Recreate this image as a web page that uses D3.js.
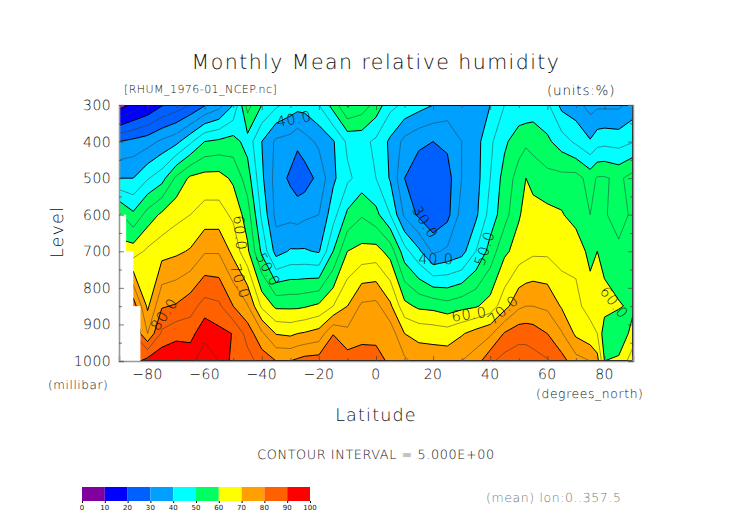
<!DOCTYPE html>
<html><head><meta charset="utf-8">
<script src="https://cdn.jsdelivr.net/npm/d3@7"></script>
<style>
html,body{margin:0;padding:0;background:#fff}
svg{display:block}
text{font-family:"DejaVu Sans",sans-serif;font-weight:200;fill:#111;text-rendering:geometricPrecision}
</style></head><body><svg id="c" width="752" height="532"></svg>
<script>
const latitudes=[-90,-85,-80,-75,-70,-65,-60,-55,-50,-45,-40,-35,-30,-27.5,-25,-20,-15,-10,-5,0,5,10,15,20,25,30,35,40,45,50,52.5,55,60,65,70,75,77.5,80,85,90];
const levels=[300,400,500,600,700,850,925,1000];
const rhum300=[7,11.5,15,19.5,22,25,29.5,33,40,57,50,46,43,42,42,45,52,60.5,58,53,46.5,44,42,40,38,39,38,40,45,46,46,47,46,38.5,37,33,34,34,34,37];
const rhum400=[30,31.5,33,36,38.5,44,50,51,52,48,40,34,33,31,33,36,39.5,46,46.5,44,39,33.5,31,30,31,35,38,44,49,53,54,53.5,51,47.5,44,40.5,43,43.5,43,44.7];
const rhum500=[40,40,44.5,48,56,61,62,62,59,52.5,41,33,29,27,27.5,31.5,39,44,47,45,39.5,30,27,25,28,35,38,45,52,57,60,57.5,56.5,56.5,57,53,55.5,55.5,54,57];
const rhum600=[56,51,57,61,63.5,65,67,67,64,57.5,44,33.5,33.5,33,34,35,43,51,54.5,51.5,45,34,29,26,28.5,37,39,47,53,59.5,61.5,63,61.5,60.5,57.5,55,56.5,55.5,53,56];
const rhum700=[62,62.5,66,68,69,70.5,74.5,74.5,68.5,61,49,38,40.5,40.5,40.5,39.5,50,60,61.5,62,58,47,41,34,36,38,45,52,59,62,63,64,64,62.5,64,58,60,58,56,57];
const rhum850=[70,83,69,79.5,80.5,83,87,86,80,75.5,64,59,59,59,59.5,61,65,70,76,76.5,71,61.5,59,58.5,57,58.5,59.5,62,68,74,75,75,74,69.5,66,63.5,63,62,60.5,59];
const rhum925=[76,85,75,86,88.5,88,94,91.5,89.8,83,76,69.7,69,70,70.5,72,79.8,76.5,79,78.5,78,70,68.5,68,67.5,69.5,72,74,80.5,83,83,82.5,80,75.5,69,66.5,65,57,56,62];
const rhum1000=[80,88,92,94,94,94,97,95,88,87,83,80,80,81,82,82.3,84.5,82.4,81.5,82,79,76,73,73,73,75,77.5,84,87,88,88,87,85.5,82,77,75,72,60,61,68];
const missingLat=[-87.5,-85,-82.5];
const missingLevel=[600,700,850];
const fillValues=[0,10,20,30,40,50,60,70,80,90];
const fillColors=["#8000a0","#0000ff","#0060ff","#00a0ff","#00ffff","#00ff60","#ffff00","#ffa000","#ff6000","#ff0000"];
const lineValues=d3.range(5,100,5);
const latTicks=[-80,-60,-40,-20,0,20,40,60,80];
const latMinor=[-90,-70,-50,-30,-10,10,30,50,70,90];
const levelTicks=[300,400,500,600,700,800,900,1000];
const levelMinor=[350,450,550,650,750,850,950];
const barTicks=[0,10,20,30,40,50,60,70,80,90,100];
const labelText=["40.0","30.0","40.0","50.0","60.0","50.0","70.0","80.0","60.0","70.0","60.0"];
const labelLat=[-28.7,17.2,21,38,-47.6,-37.8,-47.6,-74.2,32.6,44.5,83.4];
const labelLevel=[338,620,722,692,650,750,782,872,872,860,840];
const labelAngle=[-10,58,0,-72,85,62,72,-55,-8,-42,52];

const W=[119,633],H=[105,361];
const x=d3.scaleLinear([-90,90],W), y=d3.scaleLinear([300,1000],H);
const grid=[rhum300,rhum400,rhum500,rhum600,rhum700,rhum850,rhum925,rhum1000].flat();
const latOf=d3.scaleLinear(latitudes.map((_,i)=>i),latitudes).clamp(true);
const levOf=d3.scaleLinear(levels.map((_,i)=>i),levels).clamp(true);
const path=d3.geoPath(d3.geoTransform({point(a,b){this.stream.point(x(latOf(a-.5)),y(levOf(b-.5)))}}));
const contours=t=>d3.contours().size([latitudes.length,levels.length]).thresholds(t)(grid);

const svg=d3.select("#c");
svg.append("defs").append("clipPath").attr("id","plot").append("rect")
 .attr("x",W[0]).attr("y",H[0]).attr("width",W[1]-W[0]).attr("height",H[1]-H[0]);
const plot=svg.append("g").attr("clip-path","url(#plot)");
plot.selectAll("path.f").data(contours(fillValues)).join("path").attr("class","f")
 .attr("d",path).attr("fill",(d,i)=>fillColors[i]);
plot.selectAll("path.l").data(contours(lineValues)).join("path").attr("class","l")
 .attr("d",path).attr("fill","none").attr("stroke",d=>d.value%10===0?"#000":"#333")
 .attr("stroke-width",d=>d.value%10===0?1:.5);
plot.selectAll("rect.m").data(missingLat).join("rect").attr("class","m")
 .attr("x",W[0]).attr("y",(d,i)=>y(missingLevel[i])).attr("width",d=>x(d)-W[0])
 .attr("height",(d,i)=>H[1]-y(missingLevel[i])).attr("fill","#fff");
plot.selectAll("text").data(labelText).join("text")
 .attr("transform",(d,i)=>`translate(${x(labelLat[i])},${y(labelLevel[i])}) rotate(${labelAngle[i]})`)
 .attr("text-anchor","middle").attr("dy","0.35em").attr("font-size",14.5).attr("letter-spacing",.8)
 .text(d=>d);

function axes(){
 const ax=[[d3.axisBottom(x),H[1],0,latTicks,latMinor],[d3.axisTop(x),H[0],0,latTicks,latMinor],
           [d3.axisLeft(y),W[0],1,levelTicks,levelMinor],[d3.axisRight(y),W[1],1,levelTicks,levelMinor]];
 ax.forEach(([a,pos,vert,maj,min])=>{
  const top=pos===H[0];
  const g=svg.append("g").attr("transform",vert?`translate(${pos},0)`:`translate(0,${pos})`);
  g.call(a.tickValues(maj).tickSize(-5).tickFormat(""));
  const g2=svg.append("g").attr("transform",vert?`translate(${pos},0)`:`translate(0,${pos})`);
  g2.call(a.tickValues(min).tickSize(-3).tickFormat(""));
  g.select(".domain").attr("stroke",top?"#111":"#999").attr("stroke-width",top?.9:1.6);
  g2.select(".domain").remove();
  g.selectAll(".tick line").attr("stroke","#444").attr("stroke-width",.7);
  g2.selectAll(".tick line").attr("stroke","#444").attr("stroke-width",.7);
 });
}
axes();

const T=(s,px,py,size,anchor="start",ls=0,extra)=>{
 const t=svg.append("text").attr("x",px).attr("y",py).attr("font-size",size).attr("text-anchor",anchor)
  .attr("letter-spacing",ls).text(s); if(extra)extra(t); return t;};
levelTicks.forEach(v=>T(v,111,y(v)+5,14,"end",.4));
latTicks.forEach(v=>T(v<0?"\u2212"+(-v):v,x(v),379,14,"middle",.4));
T("Monthly Mean relative humidity",376,69,20.5,"middle",1.45);
T("[RHUM_1976-01_NCEP.nc]",124,93,11,"start",.45);
T("(units:%)",547,95,13.5,"start",.8);
T("(millibar)",48,389,12,"start",.6);
T("(degrees_north)",536,398,12.3,"start",.65);
T("Latitude",376,421,17.5,"middle",1.2);
T("Level",0,0,17.5,"middle",1.2,t=>t.attr("x",null).attr("y",null).attr("transform","translate(63,232) rotate(-90)"));
T("CONTOUR INTERVAL = 5.000E+00",376,459,12.8,"middle",.6);
T("(mean) lon:0..357.5",486,502,12.5,"start",.6,t=>t.style("fill","#777"));

const bar=d3.scaleLinear([0,100],[82,310]);
svg.selectAll("rect.b").data(fillValues).join("rect").attr("class","b")
 .attr("x",d=>bar(d)).attr("y",487).attr("width",d=>bar(d+10)-bar(d)).attr("height",14)
 .attr("fill",(d,i)=>fillColors[i]);
const bg=svg.append("g").attr("transform","translate(0,501)")
 .call(d3.axisBottom(bar).tickValues(barTicks).tickSize(2).tickFormat(""));
bg.select(".domain").remove();
bg.selectAll(".tick line").attr("stroke","#000");
barTicks.forEach(v=>T(v,bar(v),510,7,"middle",.1,t=>t.style("font-weight",400)));
</script></body></html>
